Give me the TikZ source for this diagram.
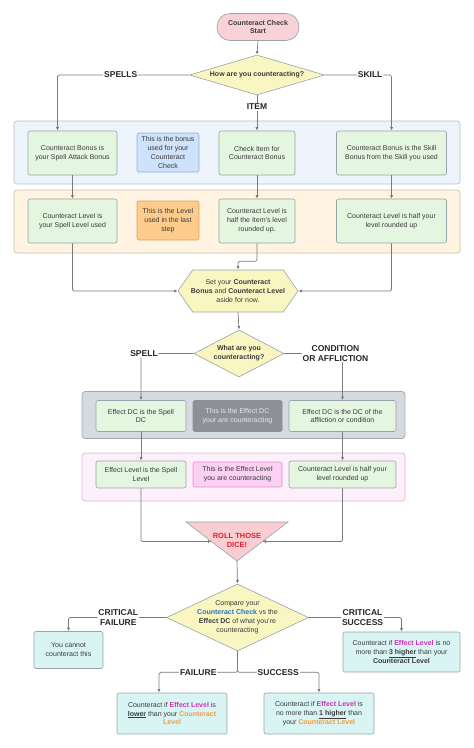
\documentclass[tikz,border=0pt]{standalone}
\usepackage{fontspec}
\setmainfont{Liberation Sans}
\usetikzlibrary{shapes.geometric, shapes.symbols, arrows.meta, calc}
\definecolor{flowgray}{HTML}{7A7A7A}
\definecolor{boxedge}{HTML}{9AA1A8}
\definecolor{bodytext}{HTML}{3A3A3A}
\definecolor{stepfill}{HTML}{E4F6E0}
\definecolor{endfill}{HTML}{D8F5F3}
\definecolor{decfill}{HTML}{FAF6C2}
\definecolor{startfill}{HTML}{F8D2D7}
\definecolor{dicefill}{HTML}{F9CDD2}
\definecolor{dicered}{HTML}{E3222C}
\definecolor{bluepanel}{HTML}{EDF4FC}
\definecolor{bluepaneledge}{HTML}{B5C2CF}
\definecolor{bluenote}{HTML}{CFE2FB}
\definecolor{bluenoteedge}{HTML}{8DB2DF}
\definecolor{orangepanel}{HTML}{FEF4E1}
\definecolor{orangepaneledge}{HTML}{CDBFA6}
\definecolor{orangenote}{HTML}{FDCB8B}
\definecolor{orangenoteedge}{HTML}{E0A35A}
\definecolor{graypanel}{HTML}{D5DAE0}
\definecolor{graypaneledge}{HTML}{A3A8AE}
\definecolor{graynote}{HTML}{8D9097}
\definecolor{graynotetext}{HTML}{E6E7EA}
\definecolor{pinkpanel}{HTML}{FEF0FB}
\definecolor{pinkpaneledge}{HTML}{D9B7D3}
\definecolor{pinknote}{HTML}{FBD0F3}
\definecolor{pinknoteedge}{HTML}{E48AD5}
\definecolor{checkblue}{HTML}{1D74C6}
\definecolor{effmag}{HTML}{CF2FB8}
\definecolor{ctorange}{HTML}{F29B3B}
\newcommand{\boxfont}{\fontsize{7}{8.9}\selectfont}
\newcommand{\colbf}[2]{\textcolor{#1}{\textbf{#2}}}

\begin{document}
\begin{tikzpicture}[
	x=1pt, y=-1pt,
	>={Latex[length=3.5pt,width=3pt]},
	font=\boxfont,
	% Styles for the boxes, panels and connectors
	stepbox/.style={draw=boxedge, line width=0.6pt, fill=stepfill, rounded corners=2pt, align=center, text=bodytext, inner sep=1pt},
	endbox/.style={stepbox, fill=endfill},
	notebox/.style={line width=0.6pt, rounded corners=2pt, align=center, text=bodytext, inner sep=1pt},
	panel/.style={line width=0.7pt, rounded corners=3pt},
	decision/.style={diamond, draw=boxedge, line width=0.6pt, fill=decfill, inner sep=0pt, text=bodytext},
	branch/.style={font=\fontsize{8.5}{9.6}\selectfont\bfseries, text=black!85, fill=white, inner sep=1pt, align=center},
	flow/.style={->, draw=flowgray, line width=0.7pt, rounded corners=1.5pt}
	]
	\useasboundingbox (0,0) rectangle (474,748);
	
	% ==========================================
	% 1. START AND FIRST QUESTION
	% ==========================================
	\node[stepbox, fill=startfill, rounded corners=13pt, minimum width=82pt, minimum height=27pt, font=\boxfont\bfseries] (start) at (258,27) {Counteract Check\\Start};
	\node[decision, aspect=3.375, minimum width=135pt, minimum height=40pt, font=\boxfont\bfseries] (how) at (257,75) {How are you counteracting?};
	
	% ==========================================
	% 2. COUNTERACT BONUS PANEL
	% ==========================================
	\node[panel, draw=bluepaneledge, fill=bluepanel, minimum width=446pt, minimum height=63pt] (bonusPanel) at (237,152.5) {};
	\node[stepbox, minimum width=89pt, minimum height=44pt] (bonusSpell) at (72.5,153) {Counteract Bonus is\\your Spell Attack Bonus};
	\node[notebox, draw=bluenoteedge, fill=bluenote, minimum width=62pt, minimum height=39pt] (bonusNote) at (168,152.5) {This is the bonus\\used for your\\Counteract\\Check};
	\node[stepbox, minimum width=76pt, minimum height=44pt] (bonusItem) at (257,153) {Check Item for\\Counteract Bonus};
	\node[stepbox, minimum width=110pt, minimum height=44pt] (bonusSkill) at (391.5,153) {Counteract Bonus is the Skill\\Bonus from the Skill you used};
	
	% ==========================================
	% 3. COUNTERACT LEVEL PANEL
	% ==========================================
	\node[panel, draw=orangepaneledge, fill=orangepanel, minimum width=446pt, minimum height=63pt] (levelPanel) at (237,221.5) {};
	\node[stepbox, minimum width=89pt, minimum height=44pt] (levelSpell) at (72.5,221) {Counteract Level is\\your Spell Level used};
	\node[notebox, draw=orangenoteedge, fill=orangenote, minimum width=62pt, minimum height=39pt] (levelNote) at (168,220.5) {This is the Level\\used in the last\\step};
	\node[stepbox, minimum width=76pt, minimum height=44pt] (levelItem) at (257,221) {Counteract Level is\\half the Item’s level\\rounded up.};
	\node[stepbox, minimum width=110pt, minimum height=44pt] (levelSkill) at (391.5,221) {Counteract Level is half your\\level rounded up};
	
	% Aside hexagon and second question
	\node[signal, signal to=east and west, signal pointer angle=110, draw=boxedge, line width=0.6pt, fill=decfill, minimum width=120pt, minimum height=42pt, inner sep=0pt] (aside) at (238,291) {};
	\node[align=center, text=bodytext] (asideText) at (aside.center) {Set your \textbf{Counteract}\\\textbf{Bonus} and \textbf{Counteract Level}\\aside for now.};
	\node[decision, aspect=1.91, minimum width=90pt, minimum height=47pt, font=\boxfont\bfseries, align=center] (what) at (239,353.5) {What are you\\counteracting?};
	
	% ==========================================
	% 4. EFFECT DC PANEL
	% ==========================================
	\node[panel, draw=graypaneledge, fill=graypanel, minimum width=323pt, minimum height=47pt] (dcPanel) at (243.5,415) {};
	\node[stepbox, minimum width=90pt, minimum height=31pt] (dcSpell) at (141,416) {Effect DC is the Spell\\DC};
	\node[notebox, draw=graynote, fill=graynote, text=graynotetext, minimum width=89pt, minimum height=31pt] (dcNote) at (237.5,416) {This is the Effect DC\\your are counteracting};
	\node[stepbox, minimum width=107pt, minimum height=31pt] (dcCond) at (342.5,416) {Effect DC is the DC of the\\affliction or condition};
	
	% ==========================================
	% 5. EFFECT LEVEL PANEL
	% ==========================================
	\node[panel, draw=pinkpaneledge, fill=pinkpanel, minimum width=323pt, minimum height=48pt] (effPanel) at (243.5,477) {};
	\node[stepbox, minimum width=90pt, minimum height=27pt] (effSpell) at (141,474.5) {Effect Level is the Spell\\Level};
	\node[notebox, draw=pinknoteedge, fill=pinknote, minimum width=89pt, minimum height=25pt] (effNote) at (237.5,474.5) {This is the Effect Level\\you are counteracting};
	\node[stepbox, minimum width=107pt, minimum height=27pt] (effCond) at (342.5,474.5) {Counteract Level is half your\\level rounded up};
	
	% ==========================================
	% 6. ROLL AND COMPARE
	% ==========================================
	\coordinate (rollTL) at (186,522);
	\coordinate (rollTR) at (288,522);
	\coordinate (rollTip) at (237,561);
	\draw[draw=boxedge, line width=0.6pt, fill=dicefill] (rollTL) -- (rollTR) -- (rollTip) -- cycle;
	\coordinate (rollL) at ($(rollTL)!0.5!(rollTip)$);
	\coordinate (rollR) at ($(rollTR)!0.5!(rollTip)$);
	\node[align=center, text=dicered, font=\fontsize{7.5}{9}\selectfont\bfseries] (roll) at (237,540.5) {ROLL THOSE\\DICE!};
	
	\node[decision, minimum width=142pt, minimum height=67pt] (compare) at (237.5,617.5) {};
	\node[align=center, text=bodytext] (compareText) at (compare.center) {Compare your\\\colbf{checkblue}{Counteract Check} vs the\\\textbf{Effect DC} of what you’re\\counteracting};
	
	% Outcome boxes
	\node[endbox, minimum width=69pt, minimum height=37pt] (cannot) at (68.5,650) {You cannot\\counteract this};
	\node[endbox, minimum width=117pt, minimum height=40pt] (critSucc) at (401.5,652) {Counteract if \colbf{effmag}{Effect Level} is no\\more than \underline{\textbf{3 higher}} than your\\\textbf{Counteract Level}};
	\node[endbox, minimum width=110pt, minimum height=41pt] (fail) at (172,713.5) {Counteract if \colbf{effmag}{Effect Level} is\\\underline{\textbf{lower}} than your \colbf{ctorange}{Counteract}\\\colbf{ctorange}{Level}};
	\node[endbox, minimum width=110pt, minimum height=41pt] (succ) at (319,713.5) {Counteract if \colbf{effmag}{Effect Level} is\\no more than \underline{\textbf{1 higher}} than\\your \colbf{ctorange}{Counteract Level}};
	
	% ==========================================
	% 7. CONNECTORS
	% ==========================================
	\draw[flow] (start.south) -- (how.north);
	\draw[flow] (how.west) -| node[branch, pos=0.26] {SPELLS} ([xshift=-15pt]bonusSpell.north);
	\draw[flow] (how.east) -| node[branch, pos=0.34] {SKILL} (bonusSkill.north);
	\draw[flow] (how.south) -- node[branch, pos=0.33] {ITEM} (bonusItem.north);
	
	\draw[flow] (bonusSpell.south) -- (levelSpell.north);
	\draw[flow] (bonusItem.south) -- (levelItem.north);
	\draw[flow] (bonusSkill.south) -- (levelSkill.north);
	
	\draw[flow] (levelSpell.south) |- (aside.west);
	\draw[flow] (levelSkill.south) |- (aside.east);
	\draw[flow] (levelItem.south) -- ++(0,18) -| (aside.north);
	\draw[flow] (aside.south) -- (what.north);
	
	\draw[flow] (what.west) -| node[branch, pos=0.5, xshift=3pt] {SPELL} (dcSpell.north);
	\draw[flow] (what.east) -| node[branch, pos=0.5, xshift=-7pt] {CONDITION\\OR AFFLICTION} (dcCond.north);
	\draw[flow] (dcSpell.south) -- (effSpell.north);
	\draw[flow] (dcCond.south) -- (effCond.north);
	\draw[flow] (effSpell.south) |- (rollL);
	\draw[flow] (effCond.south) |- (rollR);
	\draw[flow] (rollTip) -- (compare.north);
	
	\draw[flow] (compare.west) -| node[branch, pos=0.245] {CRITICAL\\FAILURE} (cannot.north);
	\draw[flow] (compare.east) -| node[branch, pos=0.29] {CRITICAL\\SUCCESS} (critSucc.north);
	\coordinate (split) at ($(compare.south)+(0,21)$);
	\draw[flow] (compare.south) -- (split) -| node[branch, pos=0.25] {FAILURE} ([xshift=-13pt]fail.north);
	\draw[flow] (compare.south) -- (split) -| node[branch, pos=0.25] {SUCCESS} (succ.north);
\end{tikzpicture}
\end{document}
